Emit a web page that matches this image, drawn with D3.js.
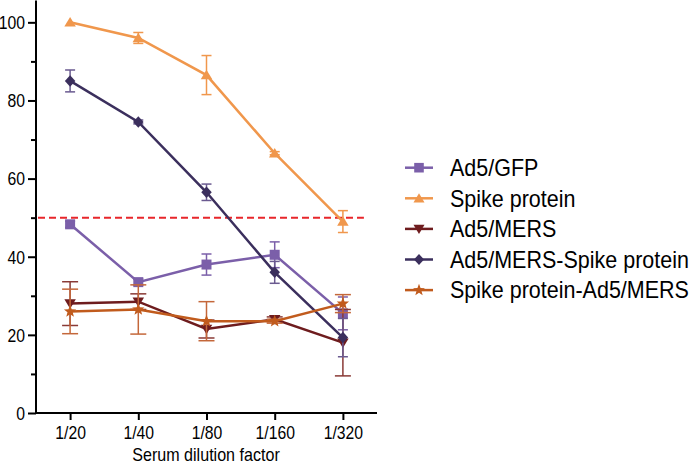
<!DOCTYPE html>
<html><head><meta charset="utf-8">
<script src="https://cdn.jsdelivr.net/npm/d3@7"></script>
<style>
html,body{margin:0;padding:0;background:#fff;}
svg{display:block;font-family:"Liberation Sans",Arial,sans-serif;}
</style></head>
<body><svg id="c" width="694" height="464"></svg>
<script>
const categories = ["1/20","1/40","1/80","1/160","1/320"];
const seriesNames = ["Ad5/GFP","Spike protein","Ad5/MERS","Ad5/MERS-Spike protein","Spike protein-Ad5/MERS"];
const gfpValues    = [48.3, 33.5, 38.0, 40.5, 25.5];
const gfpErrors    = [0.8, 0.8, 2.7, 3.3, 4.2];
const spikeValues  = [100, 96.0, 86.5, 66.5, 49.0];
const spikeErrors  = [0, 1.4, 5.0, 0.4, 2.8];
const mersValues   = [28.0, 28.5, 21.5, 24.0, 18.0];
const mersErrors   = [5.6, 2.0, 2.3, 0.6, 8.5];
const mersSpikeValues = [85.0, 74.5, 56.5, 36.0, 19.3];
const mersSpikeErrors = [2.8, 0.5, 2.1, 2.8, 4.9];
const spikeMersValues = [26.0, 26.5, 23.5, 23.5, 28.0];
const spikeMersErrors = [5.7, 6.3, 5.0, 0.5, 2.3];
const majorTicks = [0, 20, 40, 60, 80, 100];
const minorTicks = [10, 30, 50, 70, 90];
const threshold = 50;
const xTitle = "Serum dilution factor";

const styles = [
  {color:"#7b5fa9", err:"#7b5fa9", shape:"square", cap:5},
  {color:"#f0974c", err:"#f0974c", shape:"triangle", cap:5},
  {color:"#6e1c1e", err:"#8a3a36", shape:"invtriangle", cap:8},
  {color:"#3b2f5d", err:"#6a5a90", shape:"diamond", cap:5},
  {color:"#c15b1d", err:"#c4673a", shape:"star", cap:8}
];
const valueArrays = [gfpValues, spikeValues, mersValues, mersSpikeValues, spikeMersValues];
const errorArrays = [gfpErrors, spikeErrors, mersErrors, mersSpikeErrors, spikeMersErrors];
const series = seriesNames.map((n,i)=>({name:n, style:styles[i],
  points: categories.map((c,j)=>({cat:c, v:valueArrays[i][j], e:errorArrays[i][j]}))}));

function shapePath(shape, s){
  const r = s;
  switch(shape){
    case "square": return `M${-r},${-r}H${r}V${r}H${-r}Z`;
    case "triangle": return `M0,${-r*1.05}L${r*1.15},${r*0.85}L${-r*1.15},${r*0.85}Z`;
    case "invtriangle": return `M0,${r*1.05}L${r*1.15},${-r*0.85}L${-r*1.15},${-r*0.85}Z`;
    case "diamond": return `M0,${-r*1.15}L${r*1.05},0L0,${r*1.15}L${-r*1.05},0Z`;
    case "star": {
      let p=[]; const R=r*1.3, ri=r*0.55;
      for(let k=0;k<10;k++){const a=-Math.PI/2+k*Math.PI/5; const rr=k%2?ri:R; p.push([rr*Math.cos(a), rr*Math.sin(a)]);}
      return "M"+p.map(q=>q[0].toFixed(2)+","+q[1].toFixed(2)).join("L")+"Z";
    }
  }
}
// horizontally condense text via a transform (keeps it real text)
function squeeze(sel, k){
  sel.each(function(){
    const t = d3.select(this);
    const tx = +t.attr("x") || 0, ty = +t.attr("y") || 0;
    t.attr("x", 0).attr("y", 0).attr("transform", `translate(${tx},${ty}) scale(${k},1)`);
  });
}

const svg = d3.select("#c");
const x = d3.scalePoint().domain(categories).range([36, 377]).padding(0.5);
const y = d3.scaleLinear().domain([0, 105]).range([413, 2.8]);

// axes
const yAxis = svg.append("g").attr("transform","translate(36,0)")
  .call(d3.axisLeft(y).tickValues(majorTicks).tickSize(8).tickPadding(3).tickFormat(d3.format("d")));
const yMinor = svg.append("g").attr("transform","translate(36,0)")
  .call(d3.axisLeft(y).tickValues(minorTicks).tickSize(5).tickFormat(""));
yMinor.select(".domain").remove();
const xAxis = svg.append("g").attr("transform","translate(0,413)")
  .call(d3.axisBottom(x).tickSize(7).tickPadding(7));
[yAxis,yMinor,xAxis].forEach(g=>{
  g.selectAll(".domain").attr("stroke","#000").attr("stroke-width",2);
  g.selectAll(".tick line").attr("stroke","#000").attr("stroke-width",2);
  g.selectAll("text").attr("fill","#000").attr("font-size",17.5).attr("font-family","Liberation Sans, Arial, sans-serif");
});
yAxis.select(".domain").attr("d", `M-0,0.5V${y(0)}`);
xAxis.select(".domain").attr("d", `M36,0H377`);
yAxis.selectAll(".tick text").attr("dy","0.36em");
xAxis.selectAll(".tick text").attr("dy","0.71em");
squeeze(yAxis.selectAll(".tick text"), 0.9);
squeeze(xAxis.selectAll(".tick text"), 0.9);

const title = svg.append("text").attr("x", 206).attr("y", 461).attr("text-anchor","middle")
  .attr("font-size",17.5).attr("fill","#000").text(xTitle);
squeeze(title, 0.92);

// threshold
svg.append("line").attr("x1",38).attr("x2",x("1/320")+21)
  .attr("y1",y(threshold)).attr("y2",y(threshold))
  .attr("stroke","#e8262b").attr("stroke-width",2).attr("stroke-dasharray","7,4");

// series
const line = d3.line().x(d=>x(d.cat)).y(d=>y(d.v));
series.forEach(s=>{
  const g = svg.append("g");
  const eb = g.selectAll(".eb").data(s.points.filter(p=>p.e>0)).enter().append("g");
  eb.append("line").attr("x1",d=>x(d.cat)).attr("x2",d=>x(d.cat))
    .attr("y1",d=>y(d.v+d.e)).attr("y2",d=>y(d.v-d.e))
    .attr("stroke",s.style.err).attr("stroke-width",1.5);
  [1,-1].forEach(sg=>{
    eb.append("line").attr("x1",d=>x(d.cat)-s.style.cap).attr("x2",d=>x(d.cat)+s.style.cap)
      .attr("y1",d=>y(d.v+sg*d.e)).attr("y2",d=>y(d.v+sg*d.e))
      .attr("stroke",s.style.err).attr("stroke-width",1.5);
  });
  g.append("path").datum(s.points).attr("d",line).attr("fill","none")
    .attr("stroke",s.style.color).attr("stroke-width",2.5);
  g.selectAll(".m").data(s.points).enter().append("path")
    .attr("transform",d=>`translate(${x(d.cat)},${y(d.v)})`)
    .attr("d",shapePath(s.style.shape,5)).attr("fill",s.style.color);
});

// legend
const leg = svg.append("g");
series.forEach((s,i)=>{
  const cy = 167.7 + i*30.6;
  leg.append("line").attr("x1",405).attr("x2",433).attr("y1",cy).attr("y2",cy)
    .attr("stroke",s.style.color).attr("stroke-width",2.5);
  leg.append("path").attr("transform",`translate(419,${cy})`)
    .attr("d",shapePath(s.style.shape,4.8)).attr("fill",s.style.color);
  const t = leg.append("text").attr("x",450).attr("y",cy).attr("dy","0.36em")
    .attr("font-size",23).attr("fill","#000").text(s.name);
  squeeze(t, 0.935);
});
</script></body></html>
